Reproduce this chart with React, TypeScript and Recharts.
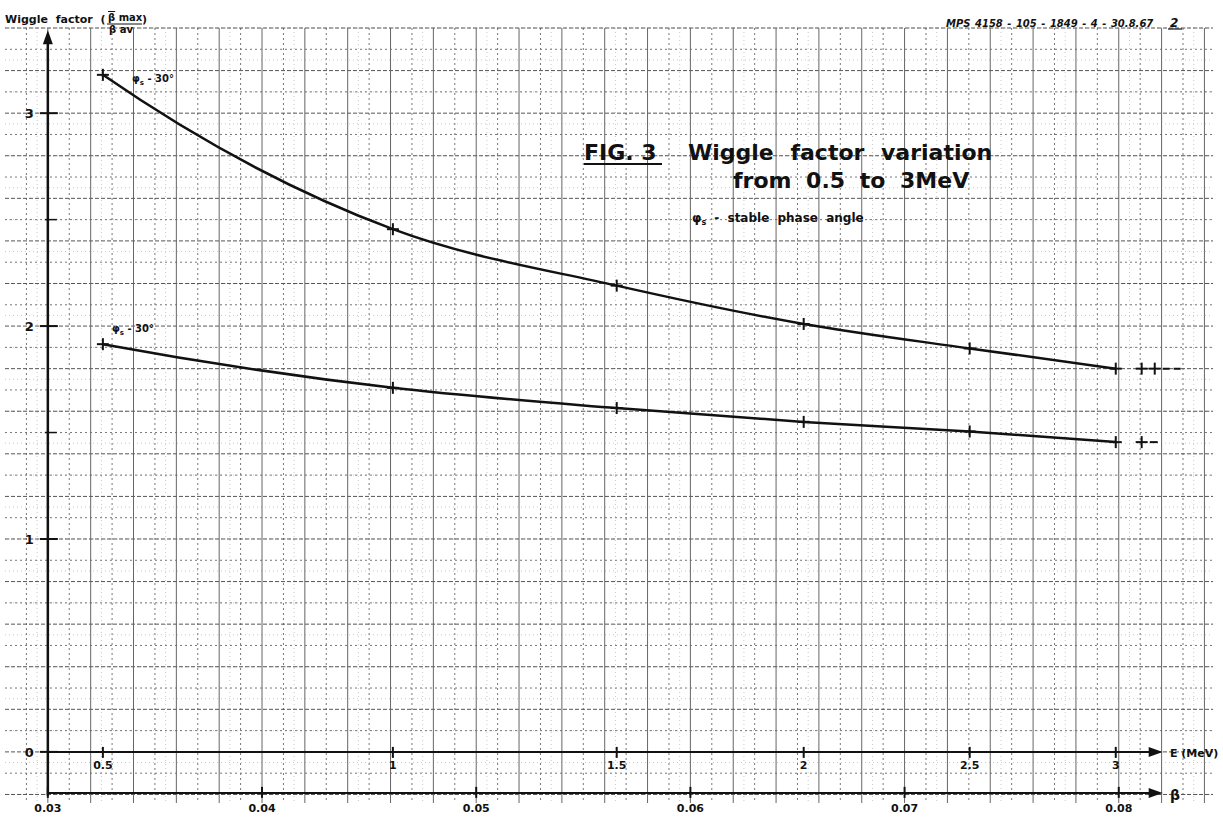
import React from 'react';
import {
  ComposedChart,
  Line,
  Scatter,
  XAxis,
  YAxis,
  CartesianGrid,
  ReferenceLine,
  Customized,
} from 'recharts';

// ---------- data ----------
const energyLabels = ['0.5', '1', '1.5', '2', '2.5', '3'];
// beta (x position) of each energy tick
const energyBeta = [0.03257, 0.04611, 0.05656, 0.06529, 0.07304, 0.07986];
// wiggle factor, upper curve (phi_s - 30°)
const wiggleUpper = [3.18, 2.455, 2.19, 2.01, 1.895, 1.8];
// wiggle factor, lower curve (phi_s - 30°)
const wiggleLower = [1.915, 1.71, 1.615, 1.55, 1.505, 1.455];

const betaTicks = [0.03, 0.04, 0.05, 0.06, 0.07, 0.08];
const betaTickLabels = ['0.03', '0.04', '0.05', '0.06', '0.07', '0.08'];
const yTicks = [0, 1, 2, 3];
const yTickLabels = ['0', '1', '2', '3'];
const yMinorTicks = [1.5, 2.5];

// extra marks drawn at the right end of both curves
const extraUpperBeta = [0.08107, 0.08168];
const extraUpperValue = 1.8;
const extraUpperDash = [0.08205, 0.08298];
const extraLowerBeta = [0.08107];
const extraLowerValue = 1.455;
const extraLowerDash = [0.08145, 0.08182];

// axes geometry (data units)
const X_DOMAIN: [number, number] = [0.028, 0.0844];
const Y_DOMAIN: [number, number] = [-0.24, 3.4];
const BETA_AXIS_Y = -0.1925;
const AXIS_ORIGIN_X = 0.03;
const ARROW_TIP_X = 0.08205;
const ARROW_TIP_Y = 3.39;

// ---------- derived rows ----------
const upperRows = energyBeta.map((b, i) => ({ x: b, y: wiggleUpper[i] }));
const lowerRows = energyBeta.map((b, i) => ({ x: b, y: wiggleLower[i] }));
const yTickRows = yTicks.map((v, i) => ({ x: AXIS_ORIGIN_X, y: v, label: yTickLabels[i] }));
const yMinorRows = yMinorTicks.map((v) => ({ x: AXIS_ORIGIN_X, y: v }));
const eTickRows = energyBeta.map((b, i) => ({ x: b, y: 0, label: energyLabels[i] }));
const betaTickRows = betaTicks.map((b, i) => ({ x: b, y: BETA_AXIS_Y, label: betaTickLabels[i] }));
const extraPlusRows = [
  ...extraUpperBeta.map((b) => ({ x: b, y: extraUpperValue })),
  ...extraLowerBeta.map((b) => ({ x: b, y: extraLowerValue })),
];
const arrowUpRows = [{ x: AXIS_ORIGIN_X, y: ARROW_TIP_Y }];
const arrowRightRows = [
  { x: ARROW_TIP_X, y: 0 },
  { x: ARROW_TIP_X, y: BETA_AXIS_Y },
];

// grid values (paper grid)
const range = (start: number, step: number, end: number) => {
  const out: number[] = [];
  for (let v = start; v <= end + 1e-9; v += step) out.push(Math.round(v * 1e6) / 1e6);
  return out;
};
const gridMajorX = range(0.028, 0.002, 0.0844);
const gridMinorX = range(0.029, 0.002, 0.0844);
const gridFineX = range(0.0285, 0.001, 0.0844);
const gridMajorY = range(-0.2, 0.2, 3.4);
const gridMinorY = range(-0.1, 0.2, 3.4);
const gridFineY = range(-0.2, 0.05, 3.4);

const FONT = '"DejaVu Sans", sans-serif';
const INK = '#111';

// ---------- smooth curve (cubic Hermite, parabolic slopes) ----------
const parabolicCurve = (context: any) => {
  let xs: number[] = [];
  let ys: number[] = [];
  return {
    areaStart() {},
    areaEnd() {},
    lineStart() {
      xs = [];
      ys = [];
    },
    point(x: number, y: number) {
      xs.push(+x);
      ys.push(+y);
    },
    lineEnd() {
      const n = xs.length;
      if (n === 0) return;
      context.moveTo(xs[0], ys[0]);
      if (n === 1) return;
      if (n === 2) {
        context.lineTo(xs[1], ys[1]);
        return;
      }
      const h: number[] = [];
      const d: number[] = [];
      for (let i = 0; i < n - 1; i++) {
        h.push(xs[i + 1] - xs[i]);
        d.push((ys[i + 1] - ys[i]) / h[i]);
      }
      const m: number[] = new Array(n);
      m[0] = ((2 * h[0] + h[1]) * d[0] - h[0] * d[1]) / (h[0] + h[1]);
      for (let i = 1; i < n - 1; i++) {
        m[i] = (h[i] * d[i - 1] + h[i - 1] * d[i]) / (h[i - 1] + h[i]);
      }
      const k = n - 2;
      m[n - 1] = ((2 * h[k] + h[k - 1]) * d[k] - h[k] * d[k - 1]) / (h[k] + h[k - 1]);
      for (let i = 0; i < n - 1; i++) {
        const t = h[i] / 3;
        context.bezierCurveTo(
          xs[i] + t,
          ys[i] + m[i] * t,
          xs[i + 1] - t,
          ys[i + 1] - m[i + 1] * t,
          xs[i + 1],
          ys[i + 1],
        );
      }
    },
  };
};

// ---------- shapes ----------
const PlusDot = (props: any) => {
  const { cx, cy } = props;
  if (cx == null || cy == null) return null;
  return (
    <g>
      <line x1={cx - 6} y1={cy} x2={cx + 6} y2={cy} stroke={INK} strokeWidth={2} />
      <line x1={cx} y1={cy - 6} x2={cx} y2={cy + 6} stroke={INK} strokeWidth={2} />
    </g>
  );
};

const YTick = (props: any) => {
  const { cx, cy, payload } = props;
  return (
    <g>
      <line x1={cx - 8} y1={cy} x2={cx + 10} y2={cy} stroke={INK} strokeWidth={2} />
      <text x={cx - 14} y={cy + 5} textAnchor="end" fontFamily={FONT} fontWeight="bold" fontSize={13} fill={INK}>
        {payload.label}
      </text>
    </g>
  );
};

const YMinorTick = (props: any) => {
  const { cx, cy } = props;
  return <line x1={cx - 3} y1={cy} x2={cx + 9} y2={cy} stroke={INK} strokeWidth={1.5} />;
};

const ETick = (props: any) => {
  const { cx, cy, payload } = props;
  return (
    <g>
      <line x1={cx} y1={cy - 5} x2={cx} y2={cy + 6} stroke={INK} strokeWidth={2} />
      <text x={cx} y={cy + 17} textAnchor="middle" fontFamily={FONT} fontWeight="bold" fontSize={11} fill={INK}>
        {payload.label}
      </text>
    </g>
  );
};

const BetaTick = (props: any) => {
  const { cx, cy, payload } = props;
  return (
    <g>
      <line x1={cx} y1={cy - 6} x2={cx} y2={cy + 5} stroke={INK} strokeWidth={2} />
      <text x={cx} y={cy + 19} textAnchor="middle" fontFamily={FONT} fontWeight="bold" fontSize={11} fill={INK}>
        {payload.label}
      </text>
    </g>
  );
};

const ArrowUp = (props: any) => {
  const { cx, cy } = props;
  return <polygon points={`${cx},${cy} ${cx - 5},${cy + 14} ${cx + 5},${cy + 14}`} fill={INK} />;
};

const ArrowRight = (props: any) => {
  const { cx, cy } = props;
  return <polygon points={`${cx},${cy} ${cx - 14},${cy - 5} ${cx - 14},${cy + 5}`} fill={INK} />;
};

// ---------- text layer ----------
const TextLayer = () => (
  <g fontFamily={FONT} fill={INK} fontWeight="bold">
    {/* y axis title */}
    <text x={5} y={23} fontSize={11} wordSpacing={4}>Wiggle factor (</text>
    <text x={108} y={21} fontSize={10}>
      <tspan textDecoration="overline">β</tspan> max
    </text>
    <line x1={107} y1={24} x2={142} y2={24} stroke={INK} strokeWidth={1} />
    <text x={109} y={33} fontSize={10}>β av</text>
    <text x={142} y={23} fontSize={11}>)</text>

    {/* reference number */}
    <text x={946} y={27} fontSize={10} fontStyle="italic" wordSpacing={1}>MPS 4158 - 105 - 1849 - 4 - 30.8.67</text>
    <text x={1170} y={27} fontSize={12} fontStyle="italic">2</text>
    <line x1={1168} y1={29} x2={1182} y2={29} stroke={INK} strokeWidth={1.2} />

    {/* figure title */}
    <text x={584} y={160} fontSize={22}>FIG. 3</text>
    <line x1={584} y1={164} x2={662} y2={164} stroke={INK} strokeWidth={2} />
    <text x={688} y={160} fontSize={22} wordSpacing={9}>Wiggle factor variation</text>
    <text x={733} y={188} fontSize={22} wordSpacing={7}>from 0.5 to 3MeV</text>
    <text x={692} y={222} fontSize={12} wordSpacing={4}>
      φ<tspan fontSize={8} dy={3}>s</tspan><tspan dy={-3}> - stable phase angle</tspan>
    </text>

    {/* curve labels */}
    <text x={132} y={82} fontSize={10}>
      φ<tspan fontSize={7} dy={3}>s</tspan><tspan dy={-3}> - 30°</tspan>
    </text>
    <text x={112} y={332} fontSize={10}>
      φ<tspan fontSize={7} dy={3}>s</tspan><tspan dy={-3}> - 30°</tspan>
    </text>

    {/* axis names */}
    <text x={1170} y={757} fontSize={11}>E (MeV)</text>
    <text x={1170} y={800} fontSize={14}>β</text>
  </g>
);

export default function App() {
  return (
    <div style={{ position: 'absolute', left: 0, top: 0, width: 1223, height: 820, background: '#fff' }}>
      <ComposedChart width={1223} height={820} margin={{ top: 28, right: 10, bottom: 17, left: 5 }}>
        <XAxis type="number" dataKey="x" domain={X_DOMAIN} hide />
        <YAxis type="number" dataKey="y" domain={Y_DOMAIN} hide />

        {/* paper grid */}
        <CartesianGrid
          verticalValues={gridFineX}
          horizontalValues={gridFineY}
          stroke="#c8c8c8"
          strokeDasharray="1 3"
          strokeWidth={1}
        />
        <CartesianGrid
          verticalValues={gridMinorX}
          horizontalValues={gridMinorY}
          stroke="#777"
          strokeDasharray="2 3"
          strokeWidth={1}
        />
        <CartesianGrid
          verticalValues={gridMajorX}
          horizontalValues={gridMajorY}
          stroke="#555"
          strokeDasharray="4 2"
          strokeWidth={1}
          horizontal={true}
          vertical={false}
        />
        <CartesianGrid verticalValues={gridMajorX} stroke="#666" strokeWidth={1} horizontal={false} />

        {/* axes */}
        <ReferenceLine
          segment={[{ x: AXIS_ORIGIN_X, y: -0.205 }, { x: AXIS_ORIGIN_X, y: 3.33 }]}
          stroke={INK}
          strokeWidth={2.5}
        />
        <ReferenceLine
          segment={[{ x: AXIS_ORIGIN_X, y: 0 }, { x: 0.0815, y: 0 }]}
          stroke={INK}
          strokeWidth={2}
        />
        <ReferenceLine
          segment={[{ x: AXIS_ORIGIN_X, y: BETA_AXIS_Y }, { x: 0.0815, y: BETA_AXIS_Y }]}
          stroke={INK}
          strokeWidth={2}
        />
        <Scatter data={arrowUpRows} shape={<ArrowUp />} isAnimationActive={false} />
        <Scatter data={arrowRightRows} shape={<ArrowRight />} isAnimationActive={false} />
        <Scatter data={yTickRows} shape={<YTick />} isAnimationActive={false} />
        <Scatter data={yMinorRows} shape={<YMinorTick />} isAnimationActive={false} />
        <Scatter data={eTickRows} shape={<ETick />} isAnimationActive={false} />
        <Scatter data={betaTickRows} shape={<BetaTick />} isAnimationActive={false} />

        {/* curves */}
        <Line
          data={upperRows}
          dataKey="y"
          type={parabolicCurve as any}
          stroke={INK}
          strokeWidth={2.5}
          dot={<PlusDot />}
          activeDot={false}
          isAnimationActive={false}
        />
        <Line
          data={lowerRows}
          dataKey="y"
          type={parabolicCurve as any}
          stroke={INK}
          strokeWidth={2.5}
          dot={<PlusDot />}
          activeDot={false}
          isAnimationActive={false}
        />

        {/* right-hand extra marks */}
        <Scatter data={extraPlusRows} shape={<PlusDot />} isAnimationActive={false} />
        <ReferenceLine
          segment={[{ x: extraUpperDash[0], y: extraUpperValue }, { x: extraUpperDash[1], y: extraUpperValue }]}
          stroke={INK}
          strokeWidth={2}
          strokeDasharray="7 4"
        />
        <ReferenceLine
          segment={[{ x: extraLowerDash[0], y: extraLowerValue }, { x: extraLowerDash[1], y: extraLowerValue }]}
          stroke={INK}
          strokeWidth={2}
        />

        <Customized component={TextLayer} />
      </ComposedChart>
    </div>
  );
}
